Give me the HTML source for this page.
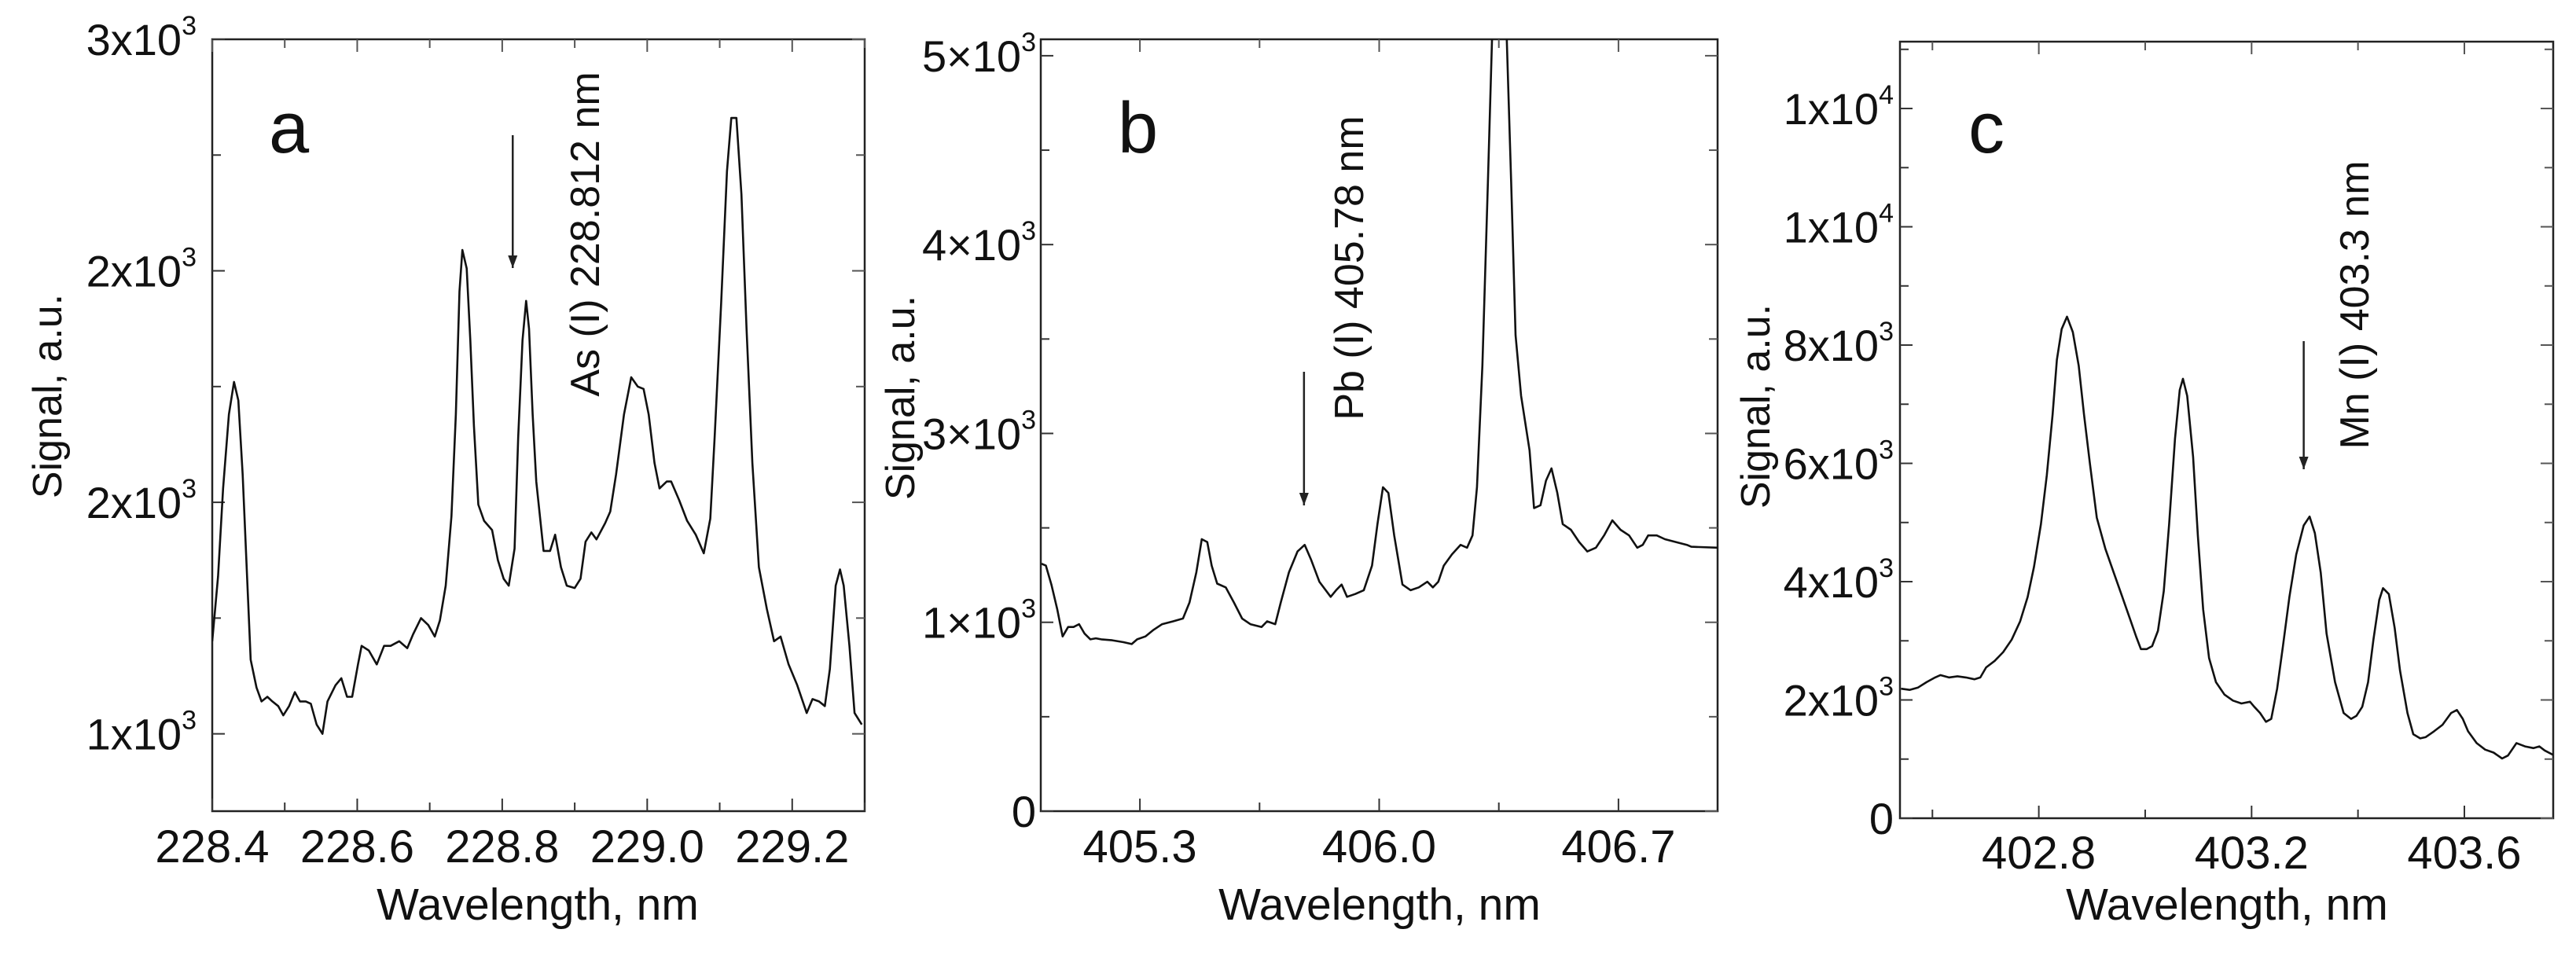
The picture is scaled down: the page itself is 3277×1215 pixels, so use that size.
<!DOCTYPE html>
<html><head><meta charset="utf-8">
<style>
html,body{margin:0;padding:0;background:#fff;}
svg{display:block;font-family:"Liberation Sans",Arial,sans-serif;}
</style></head>
<body>
<svg id="fig" width="3277" height="1215" viewBox="0 0 3277 1215" xmlns="http://www.w3.org/2000/svg"></svg>
<script>
// ---------- Panel a data ----------
const aWavelength = [228.400,228.408,228.415,228.423,228.430,228.436,228.442,228.448,228.453,228.461,228.468,228.476,228.483,228.491,228.498,228.506,228.514,228.521,228.529,228.536,228.544,228.552,228.559,228.570,228.578,228.586,228.593,228.601,228.606,228.616,228.627,228.637,228.646,228.658,228.669,228.677,228.688,228.698,228.707,228.714,228.722,228.730,228.736,228.741,228.745,228.751,228.756,228.761,228.767,228.775,228.786,228.794,228.802,228.809,228.817,228.822,228.828,228.833,228.837,228.842,228.847,228.857,228.866,228.873,228.881,228.889,228.900,228.908,228.915,228.923,228.930,228.942,228.949,228.957,228.968,228.978,228.987,228.995,229.002,229.010,229.017,229.027,229.033,229.044,229.055,229.067,229.078,229.087,229.093,229.102,229.110,229.116,229.123,229.130,229.137,229.145,229.154,229.165,229.175,229.184,229.195,229.207,229.220,229.228,229.237,229.245,229.252,229.260,229.266,229.271,229.279,229.286,229.296];
const aSignal = [1700,1840,2030,2190,2260,2220,2060,1840,1660,1600,1570,1580,1570,1560,1540,1560,1590,1570,1570,1565,1520,1500,1570,1605,1620,1580,1580,1650,1690,1680,1650,1690,1690,1700,1685,1715,1750,1735,1710,1745,1820,1970,2190,2455,2545,2505,2350,2165,1995,1960,1940,1875,1835,1820,1900,2140,2350,2435,2375,2190,2045,1895,1895,1930,1860,1820,1815,1835,1915,1935,1920,1955,1980,2060,2190,2270,2250,2245,2190,2085,2030,2045,2045,2005,1960,1930,1890,1965,2140,2430,2715,2830,2830,2665,2375,2085,1860,1770,1700,1710,1650,1605,1545,1575,1570,1560,1640,1820,1855,1820,1690,1545,1520];
const aXTicks = [228.4,228.6,228.8,229.0,229.2];
const aXTickLabels = ["228.4","228.6","228.8","229.0","229.2"];
const aYTicks = [3000,2500,2000,1500];
const aYTickMant = ["3x10","2x10","2x10","1x10"];
const aYTickExp = ["3","3","3","3"];

// ---------- Panel b data ----------
const bWavelength = [405.012,405.025,405.041,405.058,405.074,405.090,405.106,405.122,405.138,405.155,405.171,405.187,405.219,405.252,405.276,405.292,405.316,405.340,405.365,405.397,405.426,405.445,405.465,405.481,405.497,405.510,405.526,405.551,405.575,405.599,405.623,405.656,405.672,405.696,405.712,405.736,405.761,405.782,405.801,405.825,405.858,405.874,405.890,405.906,405.930,405.955,405.979,405.995,406.011,406.027,406.044,406.068,406.092,406.116,406.141,406.157,406.173,406.189,406.213,406.238,406.257,406.273,406.286,406.302,406.318,406.335,406.368,406.386,406.399,406.415,406.440,406.453,406.472,406.488,406.504,406.521,406.537,406.561,406.585,406.609,406.634,406.658,406.682,406.706,406.731,406.755,406.771,406.787,406.812,406.836,406.868,406.900,406.913,406.990];
const bSignal = [1310,1300,1200,1070,925,975,975,990,940,910,915,910,905,895,885,910,925,960,990,1005,1020,1105,1265,1440,1425,1300,1205,1185,1105,1020,990,975,1005,990,1105,1265,1375,1410,1330,1215,1135,1170,1200,1135,1150,1170,1300,1520,1715,1685,1460,1200,1170,1185,1215,1185,1215,1300,1360,1410,1395,1460,1715,2360,3330,4400,4400,3330,2520,2200,1910,1605,1620,1750,1815,1685,1520,1490,1425,1375,1395,1460,1540,1490,1460,1395,1410,1460,1460,1440,1425,1410,1400,1395];
const bXTicks = [405.3,406.0,406.7];
const bXTickLabels = ["405.3","406.0","406.7"];
const bYTicks = [0,1000,2000,3000,4000];
const bYTickMant = ["0","1×10","3×10","4×10","5×10"];
const bYTickExp = ["","3","3","3","3"];

// ---------- Panel c data ----------
const cWavelength = [402.541,402.557,402.573,402.589,402.605,402.615,402.631,402.647,402.663,402.679,402.690,402.701,402.717,402.733,402.749,402.765,402.779,402.791,402.804,402.815,402.826,402.834,402.843,402.853,402.864,402.875,402.885,402.896,402.909,402.925,402.941,402.957,402.973,402.983,402.992,403.003,403.013,403.024,403.035,403.045,403.056,403.065,403.071,403.079,403.090,403.099,403.109,403.120,403.133,403.149,403.165,403.181,403.197,403.205,403.216,403.227,403.237,403.248,403.259,403.271,403.284,403.298,403.309,403.319,403.330,403.341,403.357,403.373,403.387,403.397,403.408,403.419,403.429,403.440,403.447,403.458,403.469,403.479,403.493,403.504,403.517,403.527,403.543,403.559,403.575,403.586,403.597,403.607,403.623,403.639,403.655,403.671,403.682,403.698,403.714,403.730,403.741,403.751,403.769];
const cSignal = [2190,2170,2210,2300,2380,2420,2380,2400,2380,2350,2380,2550,2660,2810,3020,3330,3740,4250,4970,5800,6830,7750,8270,8480,8220,7650,6830,6000,5080,4560,4150,3740,3330,3070,2860,2860,2910,3170,3840,4970,6420,7240,7430,7140,6110,4770,3530,2710,2300,2090,1990,1940,1970,1885,1780,1630,1680,2190,2910,3740,4460,4950,5100,4820,4150,3120,2300,1780,1680,1730,1885,2300,3020,3690,3890,3790,3220,2500,1780,1420,1350,1370,1470,1580,1780,1830,1680,1470,1270,1160,1110,1010,1060,1270,1215,1185,1215,1145,1060];
const cXTicks = [402.8,403.2,403.6];
const cXTickLabels = ["402.8","403.2","403.6"];
const cYTicks = [0,2000,4000,6000,8000,10000,12000];
const cYTickMant = ["0","2x10","4x10","6x10","8x10","1x10","1x10"];
const cYTickExp = ["","3","3","3","3","4","4"];

const NS = "http://www.w3.org/2000/svg";
const svg = document.getElementById('fig');
function mk(tag, attrs, parent){
  const e = document.createElementNS(NS, tag);
  for (const k in attrs) e.setAttribute(k, attrs[k]);
  (parent||svg).appendChild(e);
  return e;
}

function panel(cfg){
  const g = mk('g', {});
  
  
  const X = v => cfg.x0 + (v - cfg.xmin) / (cfg.xmax - cfg.xmin) * (cfg.x1 - cfg.x0);
  const Y = v => cfg.y1 - (v - cfg.ymin) / (cfg.ymax - cfg.ymin) * (cfg.y1 - cfg.y0);
  const clipId = cfg.name + '-clip';
  const cp = mk('clipPath', {id: clipId}, g);
  mk('rect', {x: cfg.x0, y: cfg.y0, width: cfg.x1 - cfg.x0, height: cfg.y1 - cfg.y0}, cp);

  // frame
  const fr = mk('rect', {x: cfg.x0, y: cfg.y0, width: cfg.x1 - cfg.x0, height: cfg.y1 - cfg.y0, fill: 'none', stroke: '#222', 'stroke-width': 2.5}, g);
  
  

  // x ticks (major + minor, inward, bottom and top)
  const xstep = cfg.xTicks[1] - cfg.xTicks[0];
  for (let i = -2; i < cfg.xTicks.length + 2; i++) {
    for (const half of [0, 0.5]) {
      const v = cfg.xTicks[0] + (i + half) * xstep;
      if (v < cfg.xmin - 1e-6 || v > cfg.xmax + 1e-6) continue;
      const len = half ? 11 : 16;
      const px = X(v);
      mk('line', {x1: px, x2: px, y1: cfg.y1, y2: cfg.y1 - len, stroke: '#333', 'stroke-width': 2}, g);
      mk('line', {x1: px, x2: px, y1: cfg.y0, y2: cfg.y0 + len, stroke: '#555', 'stroke-width': 2}, g);
    }
  }
  cfg.xTicks.forEach((v, i) => {
    const t = mk('text', {x: X(v), y: cfg.xLabelY, 'font-size': 58, 'text-anchor': 'middle', fill: '#111'}, g);
    t.textContent = cfg.xTickLabels[i];
    
    
  });
  // y ticks
  const ystep = cfg.yTicks[1] - cfg.yTicks[0];
  for (let i = -2; i < cfg.yTicks.length + 2; i++) {
    for (const half of [0, 0.5]) {
      const v = cfg.yTicks[0] + (i + half) * ystep;
      const lo = Math.min(cfg.ymin, cfg.ymax), hi = Math.max(cfg.ymin, cfg.ymax);
      if (v < lo - 1e-6 || v > hi + 1e-6) continue;
      const len = half ? 11 : 16;
      const py = Y(v);
      mk('line', {x1: cfg.x0, x2: cfg.x0 + len, y1: py, y2: py, stroke: '#333', 'stroke-width': 2}, g);
      mk('line', {x1: cfg.x1, x2: cfg.x1 - len, y1: py, y2: py, stroke: '#555', 'stroke-width': 2}, g);
    }
  }
  cfg.yTicks.forEach((v, i) => {
    const t = mk('text', {x: cfg.yLabelX, y: Y(v) + 20, 'font-size': 56, 'text-anchor': 'end', fill: '#111'}, g);
    
    
    const m = mk('tspan', {}, t); m.textContent = cfg.yTickMant[i];
    if (cfg.yTickExp[i]) {
      const s = mk('tspan', {dy: -26, 'font-size': 34}, t); s.textContent = cfg.yTickExp[i];
    }
  });

  // series
  const pts = cfg.wl.map((w, i) => X(w).toFixed(1) + ',' + Y(cfg.sig[i]).toFixed(1)).join(' ');
  const pl = mk('polyline', {points: pts, fill: 'none', stroke: '#111', 'stroke-width': 2.6, 'stroke-linejoin': 'round', 'clip-path': 'url(#' + clipId + ')'}, g);
  
  

  // axis titles
  const xt = mk('text', {x: cfg.xTitleX, y: 1170, 'font-size': 57, 'text-anchor': 'middle', fill: '#111'}, g);
  xt.textContent = 'Wavelength, nm';
  
  
  const yt = mk('text', {x: 0, y: 0, 'font-size': 52, 'text-anchor': 'middle', fill: '#111', transform: 'translate(' + cfg.yTitleX + ',' + cfg.yTitleY + ') rotate(-90)'}, g);
  yt.textContent = 'Signal, a.u.';
  
  

  // panel letter
  const pl2 = mk('text', {x: cfg.letterX, y: 194, 'font-size': 92, fill: '#111'}, g);
  pl2.textContent = cfg.letter;
  
  

  // annotation arrow & label
  const ax = X(cfg.annWl);
  const ar = mk('line', {x1: ax, x2: ax, y1: cfg.arrowY0, y2: cfg.arrowY1, stroke: '#222', 'stroke-width': 2.5}, g);
  
  
  const ah = mk('polygon', {points: (ax-6)+','+(cfg.arrowY1-16)+' '+(ax+6)+','+(cfg.arrowY1-16)+' '+ax+','+cfg.arrowY1, fill: '#222'}, g);
  
  
  const at = mk('text', {x: 0, y: 0, 'font-size': 52, 'text-anchor': 'middle', fill: '#111', transform: 'translate(' + cfg.annX + ',' + cfg.annY + ') rotate(-90)'}, g);
  at.textContent = cfg.annText;
  
  
}

panel({name:'panel-a', x0:270, x1:1100, y0:50, y1:1032, xmin:228.4, xmax:229.3, ymin:1333, ymax:3000,
  wl:aWavelength, sig:aSignal, xTicks:aXTicks, xTickLabels:aXTickLabels, yTicks:aYTicks, yTickMant:aYTickMant, yTickExp:aYTickExp,
  xLabelY:1097, yLabelX:250, xTitleX:684, yTitleX:78, yTitleY:504, letter:'a', letterX:342,
  annWl:228.8145, arrowY0:172, arrowY1:341, annText:'As (I) 228.812 nm', annX:762, annY:298});

panel({name:'panel-b', x0:1324, x1:2185, y0:50, y1:1032, xmin:405.01, xmax:406.99, ymin:0, ymax:4087,
  wl:bWavelength, sig:bSignal, xTicks:bXTicks, xTickLabels:bXTickLabels, yTicks:bYTicks, yTickMant:bYTickMant, yTickExp:bYTickExp,
  xLabelY:1097, yLabelX:1318, xTitleX:1755, yTitleX:1163, yTitleY:506, letter:'b', letterX:1422,
  annWl:405.78, arrowY0:473, arrowY1:643, annText:'Pb (I) 405.78 nm', annX:1734, annY:341});

panel({name:'panel-c', x0:2417, x1:3248, y0:53, y1:1041, xmin:402.539, xmax:403.767, ymin:0, ymax:13130,
  wl:cWavelength, sig:cSignal, xTicks:cXTicks, xTickLabels:cXTickLabels, yTicks:cYTicks, yTickMant:cYTickMant, yTickExp:cYTickExp,
  xLabelY:1105, yLabelX:2409, xTitleX:2833, yTitleX:2251, yTitleY:517, letter:'c', letterX:2504,
  annWl:403.298, arrowY0:434, arrowY1:597, annText:'Mn (I) 403.3 nm', annX:3013, annY:388});
</script>
</body></html>
